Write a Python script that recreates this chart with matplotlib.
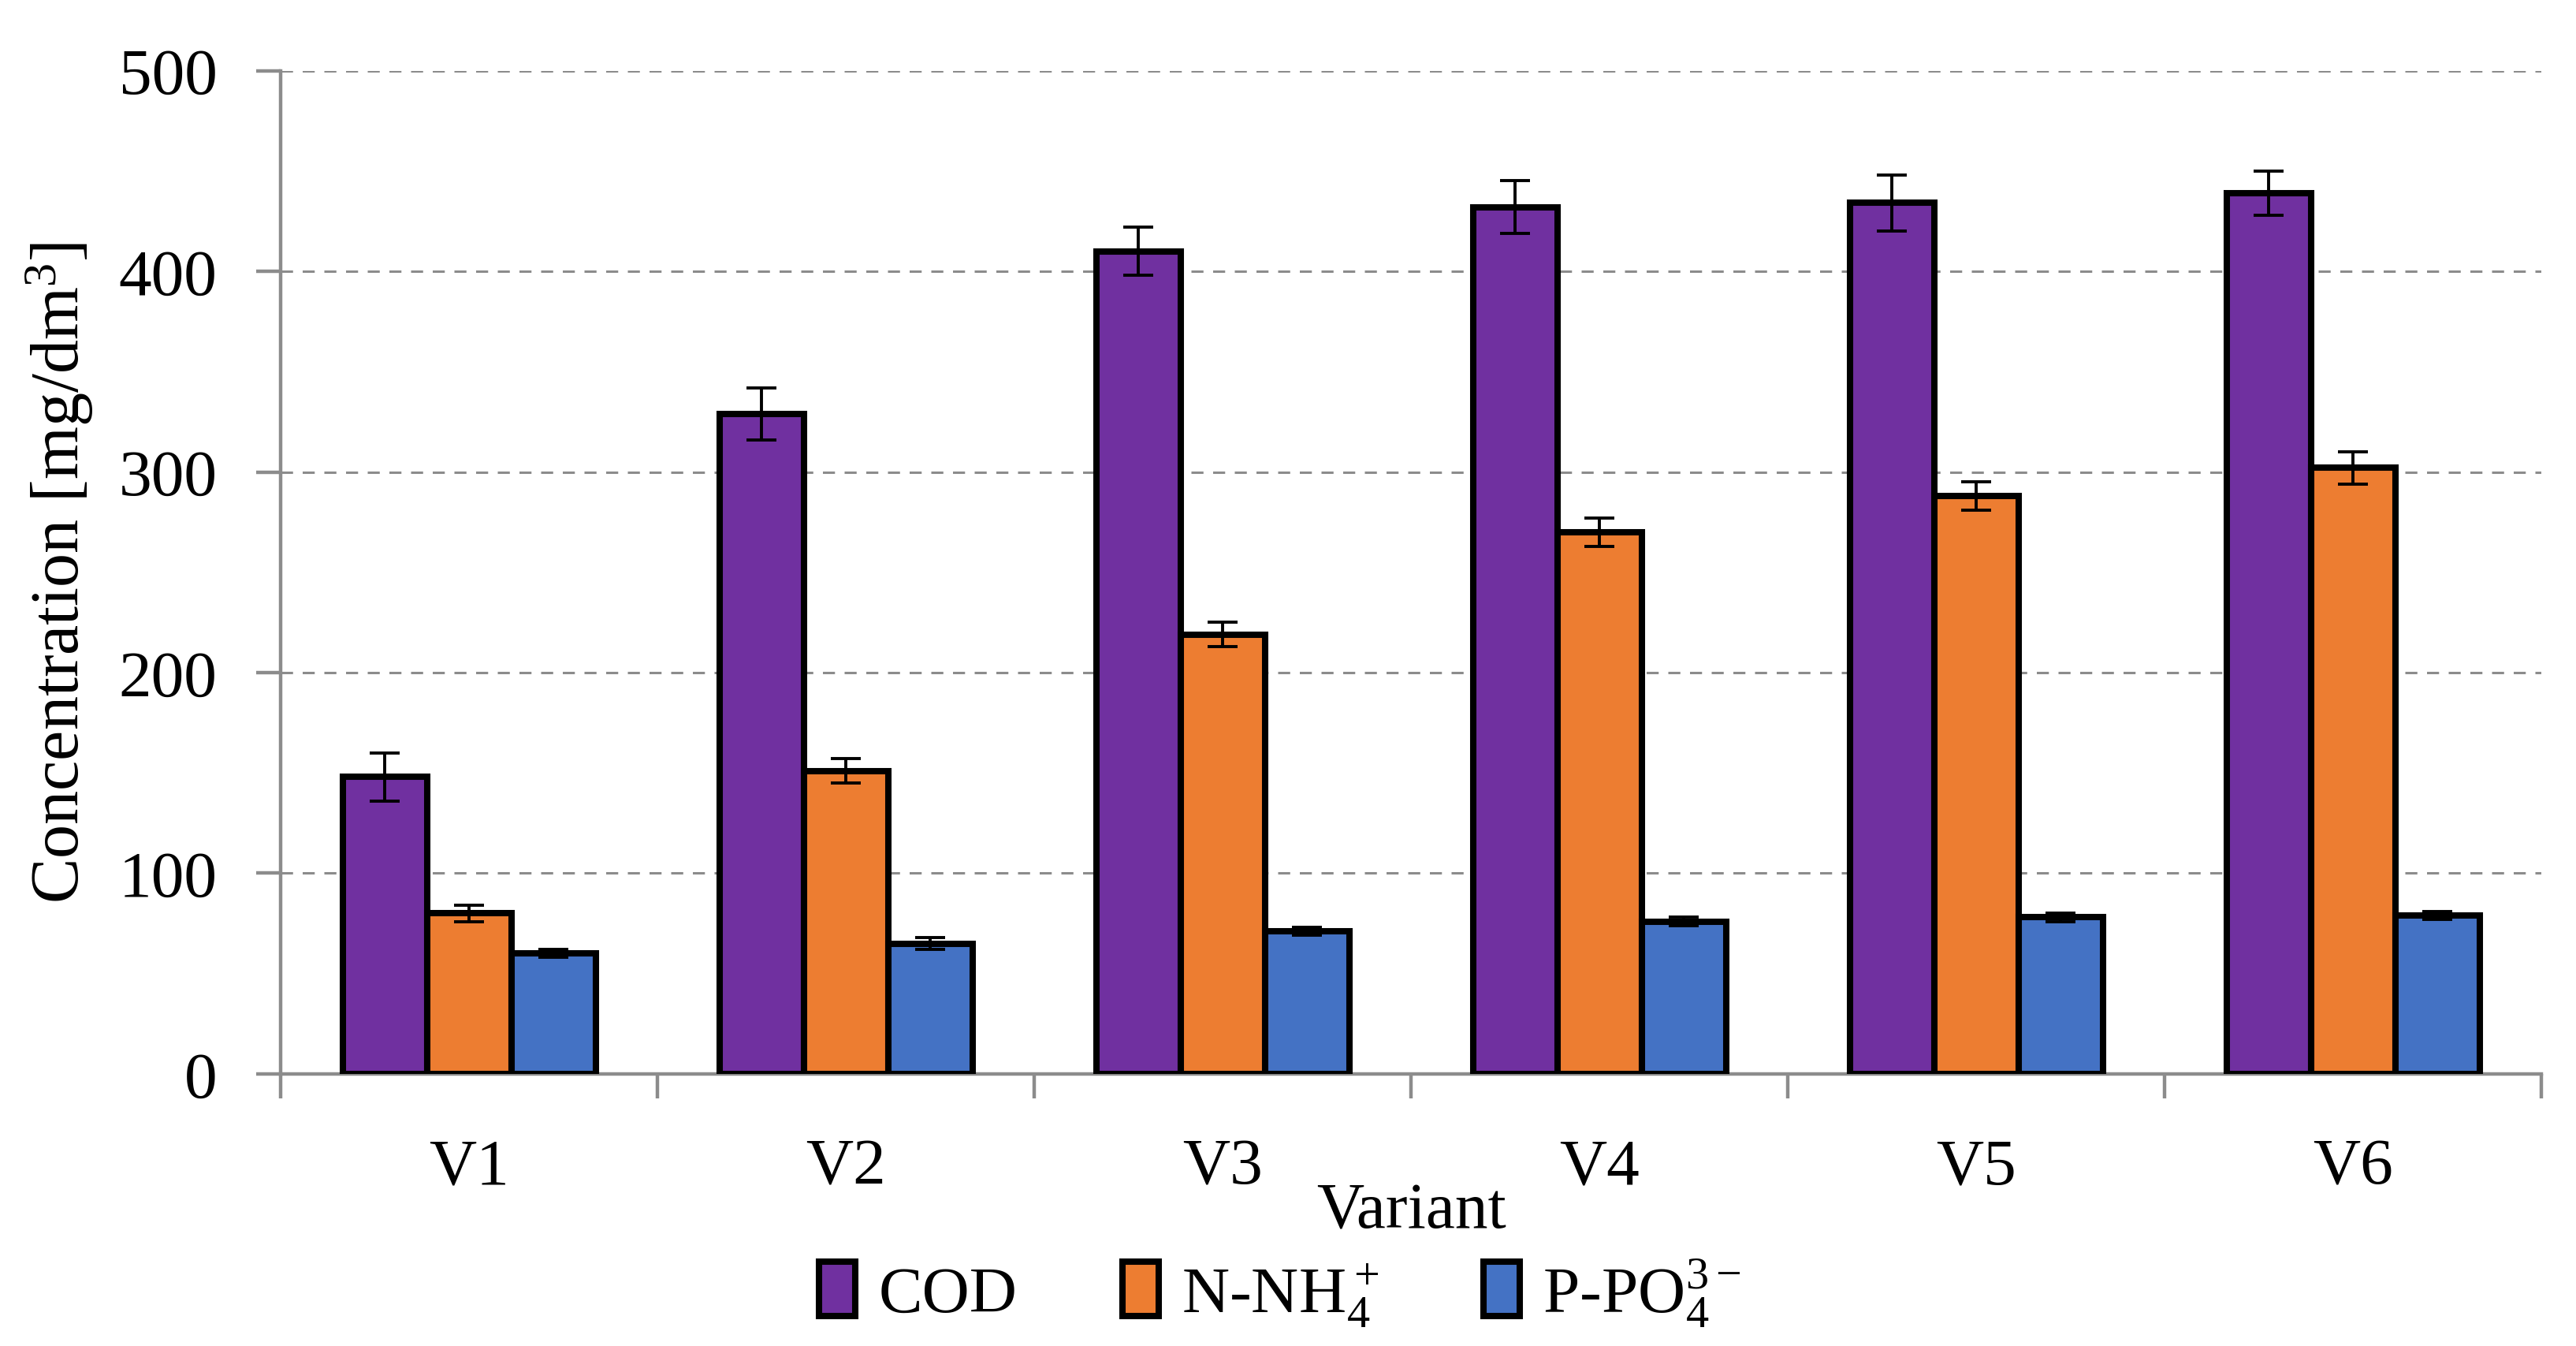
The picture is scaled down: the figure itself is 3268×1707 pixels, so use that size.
import numpy as np
import matplotlib
matplotlib.use("Agg")
import matplotlib.pyplot as plt

# datos
variantes = ["V1", "V2", "V3", "V4", "V5", "V6"]
series = ["COD", "N-NH$_4^+$", "P-PO$_4^{3\u2212}$"]
cod = [148, 329, 410, 432, 434, 439]
cod_err = [12, 13, 12, 13, 14, 11]
nh4 = [80, 151, 219, 270, 288, 302]
nh4_err = [4, 6, 6, 7, 7, 8]
po4 = [60, 65, 71, 76, 78, 79]
po4_err = [2, 3, 2, 2, 2, 2]
colores = ["#7030a0", "#ed7d31", "#4472c4"]
yticks = [0, 100, 200, 300, 400, 500]

plt.rcParams["font.family"] = ["Liberation Serif", "DejaVu Serif"]
plt.rcParams["mathtext.fontset"] = "custom"
plt.rcParams["mathtext.rm"] = "Liberation Serif"
plt.rcParams["mathtext.it"] = "Liberation Serif"

gris = "#8c8c8c"
fs = 30
fig = plt.figure(figsize=(16.34, 8.54), dpi=200)
ax = fig.add_axes([0.109, 0.202, 0.8776, 0.745])

x = np.arange(len(variantes))
w = 0.224
valores = [cod, nh4, po4]
errores = [cod_err, nh4_err, po4_err]
for i in range(3):
    ax.bar(x + (i - 1) * w, valores[i], w, color=colores[i], edgecolor="black",
           linewidth=2.9, label=series[i], zorder=3,
           yerr=errores[i], error_kw=dict(ecolor="black", elinewidth=1.4,
                                          capsize=7, capthick=1.4, zorder=4))

ax.set_xlim(-0.5, len(variantes) - 0.5)
ax.set_ylim(0, 500)
ax.set_yticks(yticks)
ax.yaxis.grid(True, linestyle=(0, (5, 4)), color=gris, linewidth=1.1, zorder=0)

for s in ["top", "right"]:
    ax.spines[s].set_visible(False)
for s in ["left", "bottom"]:
    ax.spines[s].set_color(gris)
    ax.spines[s].set_linewidth(1.6)

# ticks mayores en los limites de grupo, etiquetas en los centros
ax.set_xticks(np.arange(-0.5, len(variantes), 1.0))
ax.set_xticklabels([])
ax.set_xticks(x, minor=True)
ax.set_xticklabels(variantes, minor=True, fontsize=fs)
ax.tick_params(axis="x", which="major", length=11, width=1.6, color=gris, direction="out")
ax.tick_params(axis="x", which="minor", length=0, pad=29)
ax.tick_params(axis="y", length=11, width=1.6, color=gris, direction="out",
               labelsize=fs, pad=18)

ax.set_ylabel("Concentration [mg/dm$^3$]", fontsize=31)
ax.yaxis.set_label_coords(-0.082, 0.5)
ax.text(0.5, -0.1375, "Variant", transform=ax.transAxes, ha="center",
        va="center", fontsize=fs)

fig.legend(loc="center", bbox_to_anchor=(0.497, 0.04), ncol=3, frameon=False,
           fontsize=fs, handlelength=0.55, handleheight=0.9, columnspacing=1.6,
           handletextpad=0.35)

plt.savefig("out.png")
